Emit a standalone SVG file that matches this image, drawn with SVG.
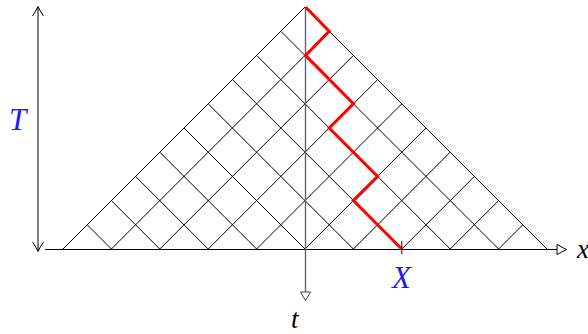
<svg xmlns="http://www.w3.org/2000/svg" width="588" height="334" viewBox="0 0 588 334">
<style>
.grid{stroke:#000;stroke-width:1;fill:none}
.axis{stroke:#000;stroke-width:1;fill:none}
.vaxis{stroke:#666;stroke-width:1.4;fill:none}
.tri{fill:#fff;stroke:#000;stroke-width:1}
.path{stroke:#f00;stroke-width:3;fill:none;stroke-linejoin:miter}
.lbl{font-family:"Liberation Serif","DejaVu Serif",serif;font-style:italic;font-size:31px}
.sm{font-size:27px}
.blue{fill:#1a1aff}
</style>
<rect width="588" height="334" fill="#fff"/>
<g id="lattice" class="grid">
<path d="M305,7 L63,249 M305,7 L547,249"/>
<path d="M329.2,31.2 L111.4,249 M353.4,55.4 L159.8,249 M377.6,79.6 L208.2,249 M401.8,103.8 L256.6,249 M426,128 L305,249 M450.2,152.2 L353.4,249 M474.4,176.4 L401.8,249 M498.6,200.6 L450.2,249 M522.8,224.8 L498.6,249"/>
<path d="M280.8,31.2 L498.6,249 M256.6,55.4 L450.2,249 M232.4,79.6 L401.8,249 M208.2,103.8 L353.4,249 M184,128 L305,249 M159.8,152.2 L256.6,249 M135.6,176.4 L208.2,249 M111.4,200.6 L159.8,249 M87.2,224.8 L111.4,249"/>
</g>
<g id="x-axis">
<path class="axis" d="M45,249.5 L557,249.5"/>
<path class="tri" d="M557,244.5 L566.5,249.5 L557,254.5 Z"/>
<text class="lbl sm" x="577" y="258">x</text>
</g>
<g id="t-axis">
<path class="vaxis" d="M305.5,7 L305.5,292"/>
<path class="tri" style="stroke:#444" d="M300.5,292 L305.5,300.5 L310.5,292 Z"/>
<text class="lbl sm" x="291" y="328">t</text>
</g>
<g id="T-arrow">
<path class="axis" d="M38,7 L38,251"/>
<path class="axis" d="M32.5,16 Q36,11 38,6.5 Q40,11 43.5,16"/>
<path class="axis" d="M32.5,242 Q36,247 38,251.5 Q40,247 43.5,242"/>
<text class="lbl blue" x="9" y="130">T</text>
</g>
<g id="walk">
<path class="path" d="M305.5,7 L329.2,31.2 L305.5,55.4 L353.4,103.8 L329.2,128 L377.6,176.4 L353.4,200.6 L401.8,249"/>
</g>
<g id="X-mark">
<path class="axis" d="M401.8,241 L401.8,254"/>
<text class="lbl blue" x="392" y="288">X</text>
</g>
</svg>
